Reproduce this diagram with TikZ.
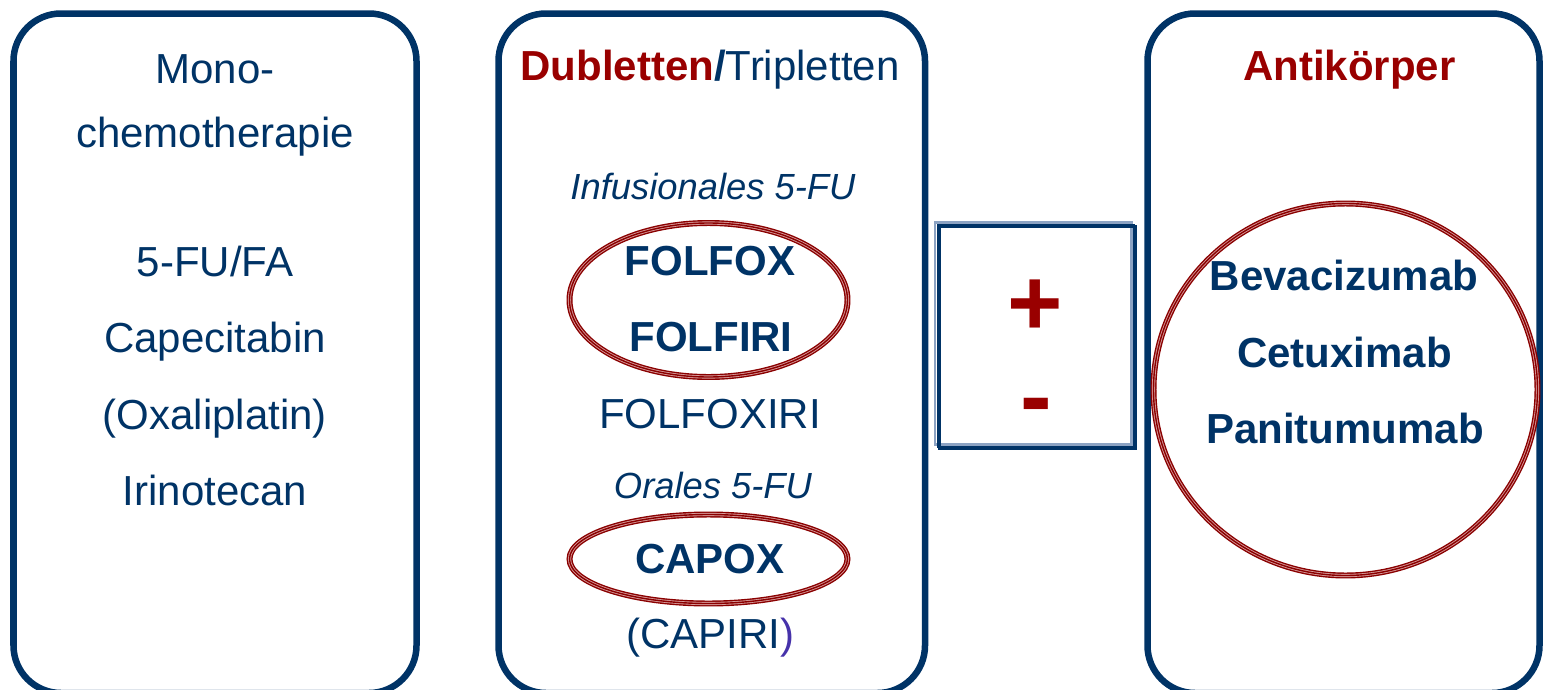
\documentclass[tikz,border=0pt]{standalone}
\usepackage{fontspec}
\setmainfont{Liberation Sans}
\usetikzlibrary{positioning}
\definecolor{navy}{RGB}{0,51,102}
\definecolor{dred}{RGB}{153,0,0}
\definecolor{steel}{RGB}{140,163,195}
\definecolor{capviolet}{RGB}{70,50,170}
\tikzset{
    panel/.style={draw=navy, line width=3.7pt, rounded corners=27pt},
    ring/.style={draw=dred!90!black, line width=3.4pt, postaction={draw=dred!40, line width=1.8pt}, postaction={draw=dred!90!black, line width=0.8pt}},
    framebox/.style={draw=#1, line width=1.6pt},
    drug/.style={text=navy, font=\fontsize{23.9}{28}\selectfont, anchor=base, inner sep=0pt},
    drugbold/.style={drug, font=\fontsize{23.9}{28}\selectfont\bfseries},
    route/.style={text=navy, font=\fontsize{20.7}{24}\selectfont\itshape, anchor=base, inner sep=0pt},
    head/.style={text=dred, font=\fontsize{23.9}{28}\selectfont\bfseries, anchor=base, inner sep=0pt},
    sign/.style={text=dred, font=\fontsize{54}{60}\selectfont\bfseries, anchor=base, inner sep=0pt}
}

\begin{document}
\begin{tikzpicture}[x=0.02cm, y=-0.02cm]
    \useasboundingbox (0,0) rectangle (1543,690);
    \draw[panel] (13.5,13.5) rectangle (416.5,693);
    \draw[panel] (498.5,13.5) rectangle (925,693);
    \draw[panel] (1147.5,13.5) rectangle (1539.5,693);

    \node[drug] (mono) at (215,83) {Mono-};
    \node[drug] (chemo) at (215,147) {chemotherapie};
    \node[drug] (fufa) at (215,276) {5-FU/FA};
    \node[drug] (cape) at (215,352) {Capecitabin};
    \node[drug] (oxali) at (215,429) {(Oxaliplatin)};
    \node[drug] (irino) at (215,505) {Irinotecan};

    \node[drug] (dubl) at (710,80) {\textcolor{dred}{\bfseries Dubletten}{\bfseries /}Tripletten};
    \node[route] (infus) at (713,199) {Infusionales 5-FU};
    \draw[ring] (708.5,300) ellipse (139 and 77);
    \node[drugbold] (folfox) at (710,275) {FOLFOX};
    \node[drugbold] (folfiri) at (711,351) {FOLFIRI};
    \node[drug] (folfoxiri) at (710,428) {FOLFOXIRI};
    \node[route] (orales) at (713,498) {Orales 5-FU};
    \draw[ring] (708.5,559) ellipse (139 and 44.5);
    \node[drugbold] (capox) at (710,573) {CAPOX};
    \node[drug] (capiri) at (710,648) {(CAPIRI\textcolor{capviolet}{)}};

    \draw[framebox=steel] (935,222.5) rectangle (1131.5,444.5);
    \draw[framebox=navy, line width=0.8pt] (937.5,224.5) rectangle (1134,447);
    \draw[framebox=navy] (939.5,226.5) rectangle (1136,449);
    \node[sign] (plus) at (1035,335) {+};
    \node[sign] (minus) at (1036,428) {-};

    \node[head] (anti) at (1349.5,80) {Antikörper};
    \draw[ring] (1345.5,389.5) ellipse (192 and 186);
    \node[drugbold] (beva) at (1344,290) {Bevacizumab};
    \node[drugbold] (cetux) at (1344.5,367) {Cetuximab};
    \node[drugbold] (panit) at (1345,443) {Panitumumab};
\end{tikzpicture}
\end{document}
